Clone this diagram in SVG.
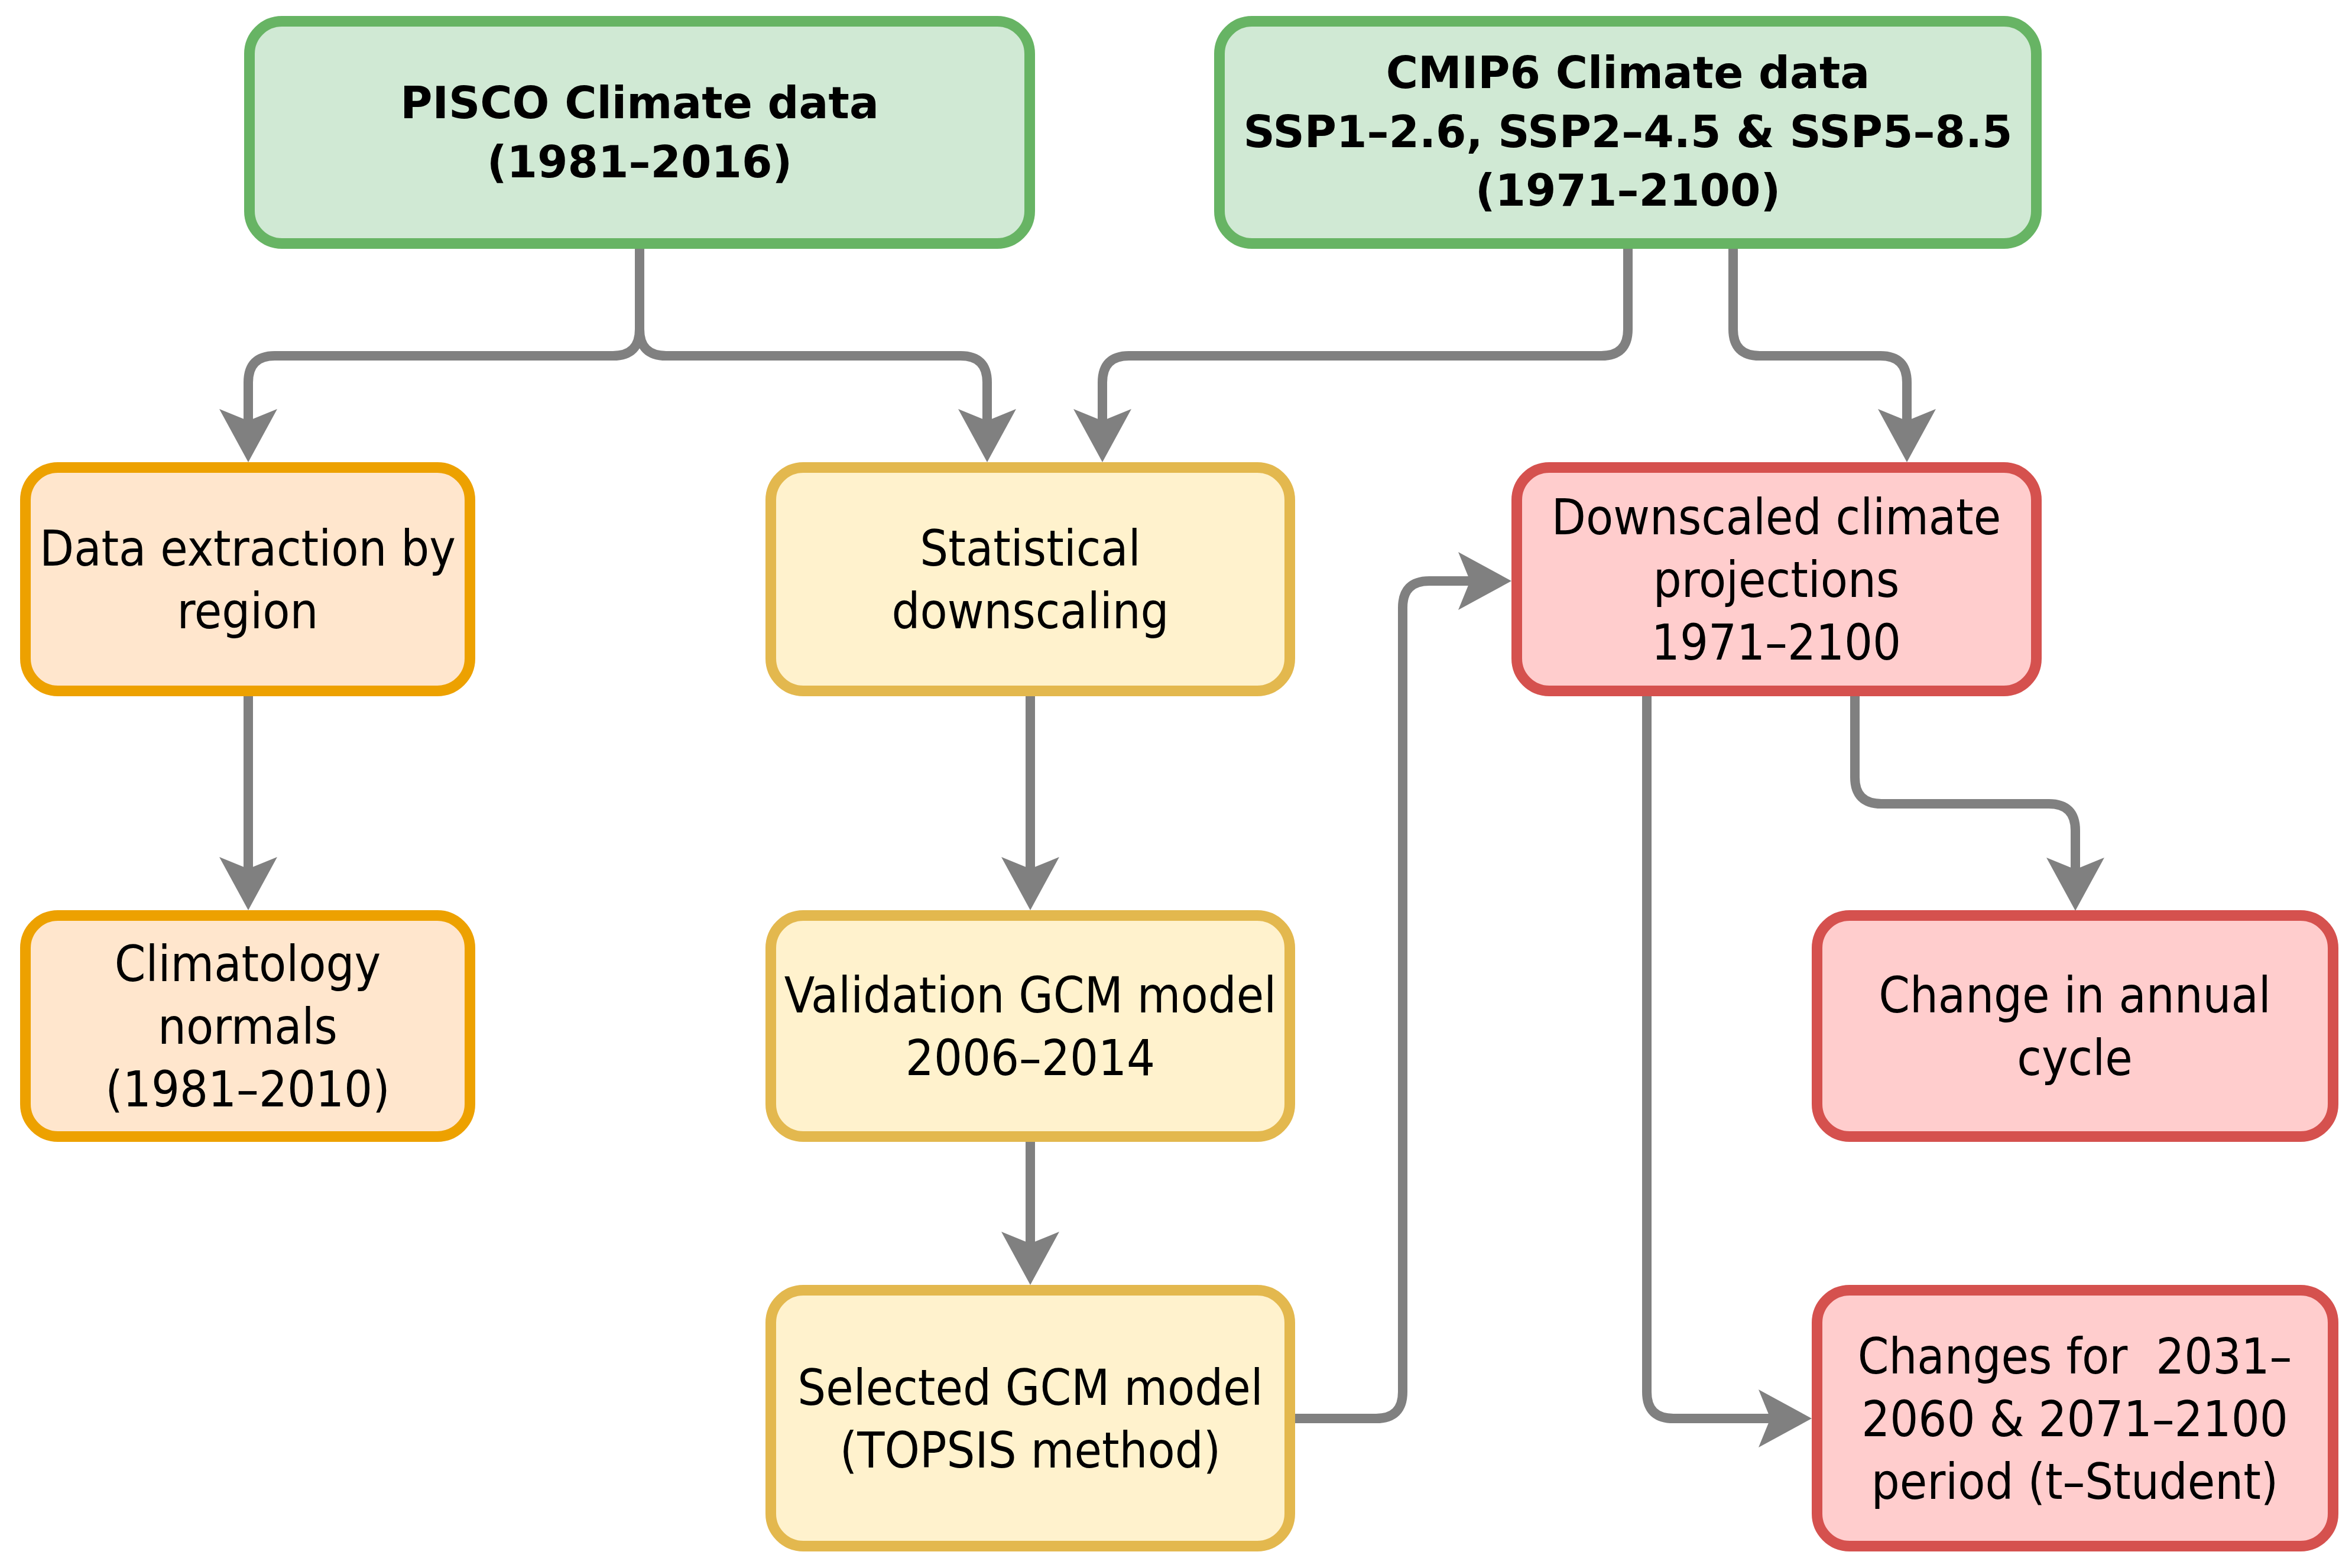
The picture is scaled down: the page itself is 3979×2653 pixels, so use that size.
<svg xmlns="http://www.w3.org/2000/svg" width="3979" height="2653" viewBox="0 0 3979 2653">
<defs>
<style>
.box{stroke-width:18}
.green{fill:#d0e9d4;stroke:#67b464}
.orange{fill:#ffe6cd;stroke:#eda100}
.yellow{fill:#fff2cd;stroke:#e3b84e}
.red{fill:#ffcdcd;stroke:#d5514e}
.t{font-family:"DejaVu Sans Condensed","DejaVu Sans",sans-serif;font-stretch:condensed;font-size:84px;fill:#000;text-anchor:middle}
.b{font-family:"DejaVu Sans",sans-serif;font-weight:bold;font-size:74px;fill:#000;text-anchor:middle}
.c{fill:none;stroke:#808080;stroke-width:16;marker-end:url(#arr)}
</style>
<marker id="arr" markerUnits="userSpaceOnUse" markerWidth="100" markerHeight="110" viewBox="-25 -55 100 110" refX="0" refY="0" orient="auto" overflow="visible">
<path d="M0,0 L-20,-49 L70,0 L-20,49 Z" fill="#808080"/>
</marker>
</defs>
<rect width="3979" height="2653" fill="#ffffff"/>
<g id="connectors">
<path class="c" d="M1082,421 V557 Q1082,602 1037,602 H465 Q420,602 420,647 V712"/>
<path class="c" d="M1082,421 V557 Q1082,602 1127,602 H1625 Q1670,602 1670,647 V712"/>
<path class="c" d="M2754,421 V557 Q2754,602 2709,602 H1910 Q1865,602 1865,647 V712"/>
<path class="c" d="M2932,421 V557 Q2932,602 2977,602 H3181 Q3226,602 3226,647 V712"/>
<path class="c" d="M420,1178 V1470"/>
<path class="c" d="M1743,1178 V1470"/>
<path class="c" d="M1743,1932 V2104"/>
<path class="c" d="M2191,2400 H2328 Q2373,2400 2373,2355 V1028 Q2373,983 2418,983 H2487"/>
<path class="c" d="M3138,1178 V1315 Q3138,1360 3183,1360 H3466 Q3511,1360 3511,1405 V1471"/>
<path class="c" d="M2786,1178 V2355 Q2786,2400 2831,2400 H2995"/>
</g>
<g id="pisco">
<rect class="box green" x="422" y="36" width="1320" height="376" rx="55"/>
<text class="b" x="1082" y="200">PISCO Climate data</text>
<text class="b" x="1082" y="300">(1981–2016)</text>
</g>
<g id="cmip6">
<rect class="box green" x="2063" y="36" width="1382" height="376" rx="55"/>
<text class="b" x="2754" y="149">CMIP6 Climate data</text>
<text class="b" x="2754" y="249">SSP1–2.6, SSP2–4.5 &amp; SSP5–8.5</text>
<text class="b" x="2754" y="348">(1971–2100)</text>
</g>
<g id="data-extraction">
<rect class="box orange" x="43" y="791" width="752" height="378" rx="55"/>
<text class="t" x="419" y="957">Data extraction by</text>
<text class="t" x="419" y="1063">region</text>
</g>
<g id="statistical-downscaling">
<rect class="box yellow" x="1304" y="791" width="878" height="378" rx="55"/>
<text class="t" x="1743" y="957">Statistical</text>
<text class="t" x="1743" y="1063">downscaling</text>
</g>
<g id="downscaled-projections">
<rect class="box red" x="2566" y="791" width="879" height="378" rx="55"/>
<text class="t" x="3005" y="904">Downscaled climate</text>
<text class="t" x="3005" y="1010">projections</text>
<text class="t" x="3005" y="1116">1971–2100</text>
</g>
<g id="climatology-normals">
<rect class="box orange" x="43" y="1549" width="752" height="374" rx="55"/>
<text class="t" x="419" y="1660">Climatology</text>
<text class="t" x="419" y="1766">normals</text>
<text class="t" x="419" y="1872">(1981–2010)</text>
</g>
<g id="validation-gcm">
<rect class="box yellow" x="1304" y="1549" width="878" height="374" rx="55"/>
<text class="t" x="1743" y="1713">Validation GCM model</text>
<text class="t" x="1743" y="1819">2006–2014</text>
</g>
<g id="change-annual-cycle">
<rect class="box red" x="3074" y="1549" width="873" height="374" rx="55"/>
<text class="t" x="3510" y="1713">Change in annual</text>
<text class="t" x="3510" y="1819">cycle</text>
</g>
<g id="selected-gcm">
<rect class="box yellow" x="1304" y="2183" width="878" height="433" rx="55"/>
<text class="t" x="1743" y="2377">Selected GCM model</text>
<text class="t" x="1743" y="2483">(TOPSIS method)</text>
</g>
<g id="changes-periods">
<rect class="box red" x="3074" y="2183" width="873" height="433" rx="55"/>
<text class="t" x="3510" y="2324" xml:space="preserve">Changes for  2031–</text>
<text class="t" x="3510" y="2430">2060 &amp; 2071–2100</text>
<text class="t" x="3510" y="2536">period (t–Student)</text>
</g>
</svg>
